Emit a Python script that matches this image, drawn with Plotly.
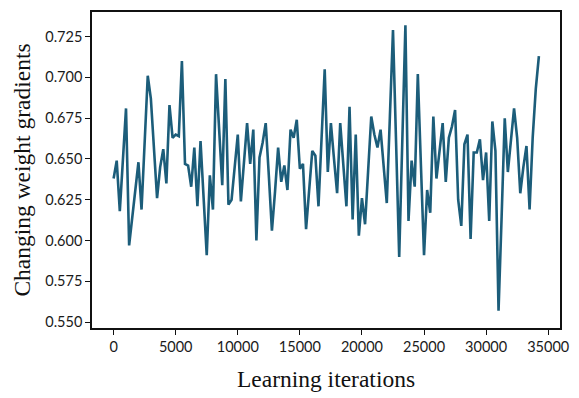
import plotly.graph_objects as go

step = 250
gradients = [
    0.638, 0.649, 0.618, 0.650, 0.681, 0.597, 0.615, 0.632, 0.648, 0.619,
    0.660, 0.701, 0.687, 0.656, 0.626, 0.645, 0.656, 0.635, 0.683, 0.663,
    0.665, 0.664, 0.710, 0.647, 0.646, 0.633, 0.657, 0.621, 0.661, 0.626,
    0.591, 0.640, 0.619, 0.702, 0.668, 0.634, 0.699, 0.622, 0.625, 0.645,
    0.665, 0.624, 0.648, 0.672, 0.647, 0.668, 0.600, 0.651, 0.660, 0.672,
    0.640, 0.606, 0.630, 0.657, 0.636, 0.646, 0.631, 0.668, 0.663, 0.674,
    0.644, 0.647, 0.607, 0.630, 0.655, 0.652, 0.621, 0.663, 0.705, 0.642,
    0.672, 0.650, 0.629, 0.672, 0.645, 0.621, 0.682, 0.613, 0.665, 0.603,
    0.626, 0.610, 0.643, 0.676, 0.665, 0.657, 0.668, 0.645, 0.623, 0.676,
    0.729, 0.660, 0.590, 0.661, 0.732, 0.612, 0.649, 0.633, 0.702, 0.646,
    0.591, 0.631, 0.617, 0.676, 0.638, 0.655, 0.672, 0.636, 0.663, 0.670,
    0.680, 0.625, 0.609, 0.659, 0.665, 0.601, 0.654, 0.654, 0.662, 0.637,
    0.654, 0.612, 0.673, 0.655, 0.557, 0.615, 0.675, 0.642, 0.660, 0.681,
    0.663, 0.629, 0.645, 0.658, 0.619, 0.663, 0.693, 0.713,
]
iterations = [i * step for i in range(len(gradients))]

x_ticks = [0, 5000, 10000, 15000, 20000, 25000, 30000, 35000]
y_ticks = [0.550, 0.575, 0.600, 0.625, 0.650, 0.675, 0.700, 0.725]

fig = go.Figure()
fig.add_trace(go.Scatter(
    x=iterations, y=gradients, mode="lines",
    line=dict(color="#1c5d7a", width=2.6),
    showlegend=False,
))

tick_font = dict(family="Lato, 'Open Sans', sans-serif", size=14.5, color="#1a1a1a")
title_font = dict(family="'Liberation Serif', 'Times New Roman', serif", size=23.5, color="#111")

fig.update_layout(
    width=579, height=398,
    margin=dict(l=92, r=11, t=10, b=68),
    paper_bgcolor="white", plot_bgcolor="white",
    xaxis=dict(
        range=[-1740, 35950],
        tickvals=x_ticks, ticktext=[str(v) for v in x_ticks],
        showgrid=False, zeroline=False,
        showline=True, linecolor="#111", linewidth=1.5, mirror=True,
        ticks="outside", ticklen=5, tickcolor="#111", tickwidth=1.2,
        tickfont=tick_font,
        title=dict(text="Learning iterations", font=title_font, standoff=16),
    ),
    yaxis=dict(
        range=[0.5464, 0.7401],
        tickvals=y_ticks, ticktext=[f"{v:.3f}" for v in y_ticks],
        showgrid=False, zeroline=False,
        showline=True, linecolor="#111", linewidth=1.5, mirror=True,
        ticks="outside", ticklen=5, tickcolor="#111", tickwidth=1.2,
        tickfont=tick_font,
        title=dict(text="Changing weight gradients", font=title_font, standoff=8),
    ),
)

fig.write_html("out.html")
